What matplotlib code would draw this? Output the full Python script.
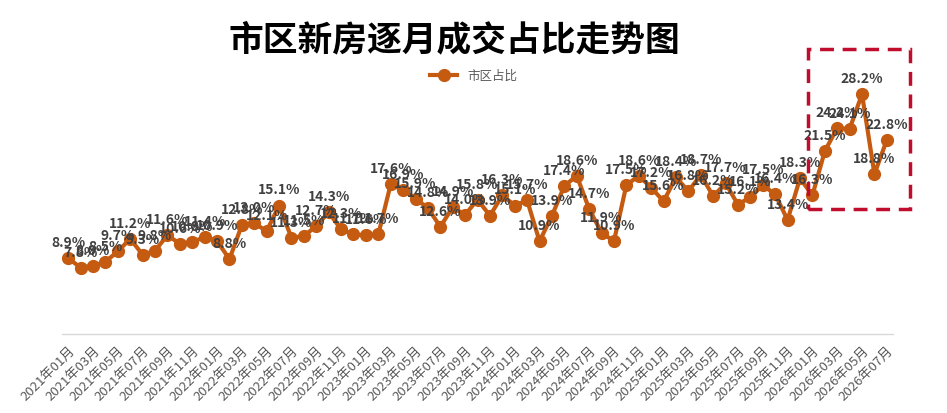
import matplotlib
matplotlib.use('Agg')
import matplotlib.pyplot as plt
from matplotlib.patches import Rectangle

plt.rcParams['font.family'] = ['Noto Sans CJK SC', 'DejaVu Sans']

# 市区新房逐月成交占比 (%), 2021-01 ~ 2026-07
months = [f'{y}年{m:02d}月' for y in range(2021, 2027) for m in range(1, 13)][:67]
share = [8.9, 7.8, 8.0, 8.5, 9.7, 11.2, 9.3, 9.8, 11.6, 10.6, 10.8, 11.4,
         10.9, 8.8, 12.8, 13.0, 12.1, 15.1, 11.3, 11.5, 12.7, 14.3, 12.3, 11.7,
         11.6, 11.7, 17.6, 16.9, 15.9, 14.8, 12.6, 14.9, 14.0, 15.8, 13.9, 16.3,
         15.1, 15.7, 10.9, 13.9, 17.4, 18.6, 14.7, 11.9, 10.9, 17.5, 18.6, 17.2,
         15.6, 18.4, 16.8, 18.7, 16.2, 17.7, 15.2, 16.1, 17.5, 16.4, 13.4, 18.3,
         16.3, 21.5, 24.2, 24.1, 28.2, 18.8, 22.8]
series_name = '市区占比'
title = '市区新房逐月成交占比走势图'
highlight_start = months.index('2026年01月')

line_color = '#C55A11'
x = list(range(len(share)))

fig = plt.figure(figsize=(9.47, 4.14), dpi=100)
ax = fig.add_axes([0.0655, 0.191, 0.8775, 0.719])

ax.plot(x, share, color=line_color, linewidth=3, marker='o', markersize=8.5,
        label=series_name, zorder=3)
for xi, v in zip(x, share):
    ax.annotate(f'{v:.1f}%', (xi, v), xytext=(0, 6.5), textcoords='offset points',
                ha='center', va='bottom', fontsize=10, fontweight='bold',
                color='#404040', zorder=4)

ax.set_xlim(-0.5, len(share) - 0.5)
ax.set_ylim(0, 35)
ax.set_xticks(x[::2])
ax.set_xticklabels(months[::2], rotation=45, ha='right', rotation_mode='anchor',
                   fontsize=9.5, color='#595959')
ax.tick_params(axis='x', length=0, pad=7)
ax.set_yticks([])
for s in ['top', 'right', 'left']:
    ax.spines[s].set_visible(False)
ax.spines['bottom'].set_color('#D9D9D9')
ax.spines['bottom'].set_linewidth(1)

# 2026年 highlighted window
box = Rectangle((highlight_start - 0.35, 14.7), len(share) - highlight_start + 1.25, 18.8,
                fill=False, edgecolor='#C00D2E', linewidth=2.5, linestyle=(0, (4, 2.5)),
                clip_on=False, zorder=5)
ax.add_patch(box)

fig.text(0.48, 0.905, title, ha='center', va='center', fontsize=25,
         fontweight='bold', color='black')
leg = fig.legend(loc='center', bbox_to_anchor=(0.5, 0.815), frameon=False,
                 fontsize=9, handlelength=2.2, labelcolor='#595959')

fig.savefig('out.png', dpi=100)
